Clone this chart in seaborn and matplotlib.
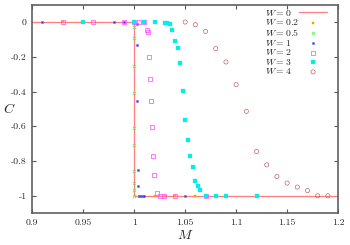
import matplotlib
matplotlib.use("Agg")
import matplotlib.pyplot as plt
import seaborn as sns

# W = 0 : ideal step
W0_M = [0.9, 1.0, 1.0, 1.2]
W0_C = [0, 0, -1, -1]

W02_M = [0.93, 1.0, 1.02, 1.03, 1.04, 1.06]
W02_C = [0, 0, -1, -1, -1, -1]

W05_M = [1.0, 1.0, 1.0, 1.0, 1.0, 1.0, 1.0, 1.0, 1.0, 1.0, 1.0]
W05_C = [0, -0.031, -0.094, -0.251, -0.41, -0.611, -0.707, -0.855, -0.927, -0.968, -1.0]

W1_M = [0.91, 0.98, 0.99, 1.0, 1.0025, 1.0025, 1.003, 1.0035, 1.004,
        1.0045, 1.005, 1.006, 1.007, 1.008, 1.009, 1.01, 1.05]
W1_C = [0, 0, 0, 0, -0.01, -0.132, -0.454, -0.849, -0.945,
        -1, -1, -1, -1, -1, -1, -1, -1]

W2_M = [0.93, 0.96, 0.99, 1.0, 1.005, 1.01, 1.0125, 1.0135, 1.0145, 1.0155,
        1.0165, 1.0175, 1.0185, 1.0195, 1.022, 1.025, 1.029, 1.04, 1.07]
W2_C = [0, 0, 0, 0, 0, 0, -0.047, -0.06, -0.203, -0.33,
        -0.452, -0.606, -0.773, -0.88, -0.984, -1, -1, -1, -1]

W3_M = [0.95, 1.0, 1.01, 1.02, 1.03, 1.0325, 1.035, 1.0375, 1.04, 1.0425,
        1.045, 1.0475, 1.05, 1.0525, 1.055, 1.0575, 1.06, 1.0625, 1.065,
        1.07, 1.08, 1.09, 1.12]
W3_C = [0, 0, 0, 0, -0.003, -0.006, -0.01, -0.046, -0.109, -0.148,
        -0.236, -0.397, -0.562, -0.678, -0.772, -0.833, -0.915, -0.946, -0.969,
        -1, -1, -1, -1]

W4_M = [1.05, 1.06, 1.07, 1.08, 1.09, 1.10, 1.11, 1.12, 1.13, 1.14,
        1.15, 1.16, 1.17, 1.18, 1.19]
W4_C = [0, -0.015, -0.054, -0.153, -0.23, -0.36, -0.514, -0.745, -0.822, -0.889,
        -0.927, -0.95, -0.97, -1, -1]

X_TICKS = [0.9, 0.95, 1.0, 1.05, 1.1, 1.15, 1.2]
X_LABELS = ["0.9", "0.95", "1", "1.05", "1.1", "1.15", "1.2"]
Y_TICKS = [0, -0.2, -0.4, -0.6, -0.8, -1]
Y_LABELS = ["0", "-0.2", "-0.4", "-0.6", "-0.8", "-1"]

W_LABELS = ["$W = 0$", "$W = 0.2$", "$W = 0.5$", "$W = 1$",
            "$W = 2$", "$W = 3$", "$W = 4$"]
LEG_FS = 7
LEG_PAD = 0.05

sns.set_style("ticks")
plt.rcParams["font.family"] = ["cmr10", "DejaVu Serif"]
plt.rcParams["mathtext.fontset"] = "cm"
plt.rcParams["axes.unicode_minus"] = False

fig = plt.figure(figsize=(3.5, 2.45), dpi=100)
ax = fig.add_axes([0.092, 0.13, 0.874, 0.851])

sns.lineplot(x=W0_M, y=W0_C, sort=False, estimator=None, color="#ff7f7f",
             lw=0.9, label=W_LABELS[0], ax=ax)
sns.scatterplot(x=W02_M, y=W02_C, marker="s", s=3.5, color="#ff9900",
                edgecolor="#ff9900", linewidth=0.3, label=W_LABELS[1], ax=ax, zorder=3)
sns.scatterplot(x=W05_M, y=W05_C, marker="x", s=6, color="#66ee66",
                linewidth=0.6, label=W_LABELS[2], ax=ax, zorder=3)
sns.scatterplot(x=W1_M, y=W1_C, marker="s", s=4, color="#2222dd",
                edgecolor="#8080ff", linewidth=0.4, label=W_LABELS[3], ax=ax, zorder=3)
sns.scatterplot(x=W2_M, y=W2_C, marker="s", s=8, facecolor="none",
                edgecolor="#ff44ff", linewidth=0.5, label=W_LABELS[4], ax=ax, zorder=3)
sns.scatterplot(x=W3_M, y=W3_C, marker="s", s=5.5, color="#00eeee",
                edgecolor="#00eeee", linewidth=0.2, label=W_LABELS[5], ax=ax, zorder=3)
sns.scatterplot(x=W4_M, y=W4_C, marker="o", s=9, facecolor="none",
                edgecolor="#c05555", linewidth=0.45, label=W_LABELS[6], ax=ax, zorder=3)

ax.set_xlim(0.9, 1.2)
ax.set_ylim(-1.1, 0.1)
ax.set_xticks(X_TICKS)
ax.set_xticklabels(X_LABELS)
ax.set_yticks(Y_TICKS)
ax.set_yticklabels(Y_LABELS)
ax.tick_params(direction="in", length=3, width=0.8, color="#555555",
               labelsize=7, top=True, right=True, pad=4)
for sp in ax.spines.values():
    sp.set_visible(True)
    sp.set_color("#606060")
    sp.set_linewidth(1.2)

ax.set_xlabel("$M$", fontsize=10)
ax.set_ylabel("$C$", fontsize=10, rotation=0, va="center")
ax.xaxis.set_label_coords(0.5, -0.075)
ax.yaxis.set_label_coords(-0.075, 0.5)

handles, labels = ax.get_legend_handles_labels()
leg = ax.legend(handles, labels, loc="upper right", bbox_to_anchor=(0.977, 1.006),
                frameon=False, markerfirst=False, fontsize=LEG_FS, handlelength=2.8,
                handletextpad=LEG_PAD, labelspacing=-0.04, borderaxespad=0.25,
                borderpad=0.2)

# gnuplot-style key: text left-aligned, samples in a column on the right.
# widen the text->sample gap of the shorter labels by their width deficit
fig.canvas.draw()
renderer = fig.canvas.get_renderer()
widths = [t.get_window_extent(renderer).width for t in leg.texts]
wmax = max(widths)
items = [it for col in leg._legend_handle_box.get_children() for it in col.get_children()]
for it, w in zip(items, widths):
    it.sep = LEG_PAD * LEG_FS + (wmax - w) * 72.0 / fig.dpi

fig.savefig("out.png", dpi=100)
